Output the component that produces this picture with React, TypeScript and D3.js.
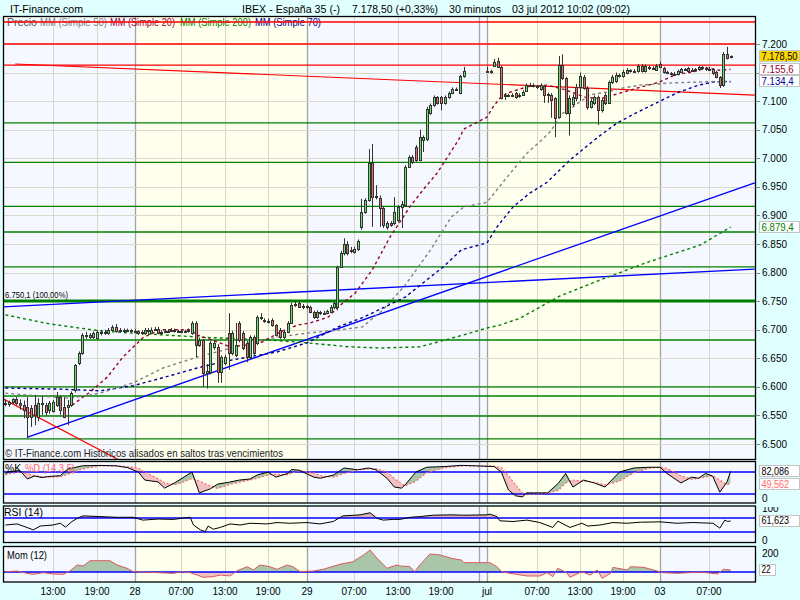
import React from "react";
import * as d3 from "d3";

// ---------- time layout (hours since 27 jun 2012 00:00, 30-minute bars) ----------
const SEG1_START_H = 6.5;
const SEG2_START_H = 120;
const SEG1_LEN = 128;
const AXIS_HOURS = [13, 19, 24, 31, 37, 43, 48, 55, 61, 67, 72, 120, 127, 133, 139, 144, 151, 156];
const AXIS_PX = [53, 97, 135, 181, 225, 268, 307, 354, 398, 441, 479, 487, 537, 580, 623, 660, 709, 745];

const tickHours = [13, 19, 24, 31, 37, 43, 48, 55, 61, 67, 120, 127, 133, 139, 144, 151];
const tickLabels = ["13:00", "19:00", "28", "07:00", "13:00", "19:00", "29", "07:00", "13:00", "19:00", "jul", "07:00", "13:00", "19:00", "03", "07:00"];
const dayBreakHours = [24, 48, 72, 120, 144];
const dayBands = [[0, 24, 0], [24, 48, 1], [48, 72, 0], [72, 120, 0], [120, 144, 1], [144, 170, 0]];

const priceTicks = [6500, 6550, 6600, 6650, 6700, 6750, 6800, 6850, 6900, 6950, 7000, 7050, 7100, 7150, 7200];
const priceTickHidden = [7150];

// ---------- candles: 27-29 jun ----------
const open1 = [6572,6570,6573,6578,6572,6568,6565,6563,6568,6547,6570,6568,6560,6558,6568,6582,6565,6565,6568,6594,6642,6659,6689,6690,6687,6686,6696,6694,6694,6700,6705,6698,6700,6698,6699,6698,6698,6694,6694,6700,6694,6700,6702,6694,6696,6698,6698,6700,6698,6698,6697,6698,6694,6712,6673,6682,6624,6626,6670,6670,6626,6642,6694,6659,6656,6712,6694,6677,6652,6687,6677,6722,6717,6715,6717,6708,6700,6687,6696,6712,6743,6747,6740,6741,6740,6731,6722,6731,6729,6729,6731,6740,6740,6810,6834,6850,6837,6836,6841,6880,6906,6927,6992,6932,6930,6913,6880,6887,6887,6892,6915,6918,6985,7002,7020,6997,7032,7034,7079,7093,7107,7107,7097,7107,7114,7121,7114,7144];
const high1 = [6578,6576,6580,6582,6578,6576,6582,6568,6586,6580,6584,6572,6575,6577,6591,6585,6582,6577,6592,6640,6662,6694,6696,6694,6697,6699,6699,6700,6703,6708,6710,6703,6702,6702,6701,6701,6699,6699,6703,6703,6704,6705,6705,6699,6701,6701,6703,6702,6700,6700,6700,6702,6715,6715,6686,6684,6640,6680,6680,6675,6655,6656,6729,6698,6712,6715,6698,6680,6690,6690,6725,6729,6720,6719,6720,6710,6703,6700,6715,6747,6750,6750,6745,6743,6742,6733,6734,6733,6733,6735,6743,6750,6812,6838,6860,6855,6845,6845,6858,6929,6930,7016,7025,6953,6935,6916,6890,6890,6932,6918,6925,6988,7005,7006,7023,7050,7040,7090,7096,7110,7109,7109,7110,7117,7124,7124,7146,7160];
const low1 = [6566,6565,6570,6568,6560,6545,6510,6530,6533,6540,6551,6550,6553,6555,6565,6551,6545,6533,6565,6590,6638,6656,6684,6684,6684,6683,6690,6691,6691,6698,6695,6695,6695,6696,6695,6695,6691,6691,6691,6694,6692,6698,6692,6691,6694,6695,6696,6695,6695,6694,6694,6695,6691,6652,6670,6600,6597,6622,6665,6607,6607,6638,6630,6655,6652,6678,6664,6643,6648,6655,6673,6717,6712,6711,6705,6688,6684,6684,6694,6710,6740,6738,6736,6736,6729,6719,6719,6726,6726,6727,6729,6736,6734,6808,6830,6830,6834,6833,6838,6875,6903,6924,6880,6928,6880,6878,6875,6880,6883,6888,6878,6915,6983,6990,6994,6995,7011,7030,7076,7090,7094,7084,7094,7104,7112,7118,7112,7141];
const close1 = [6570,6573,6578,6572,6568,6560,6547,6548,6551,6572,6572,6556,6572,6574,6582,6560,6547,6568,6589,6638,6659,6691,6691,6688,6694,6696,6694,6696,6700,6705,6698,6700,6698,6699,6698,6698,6694,6696,6700,6698,6700,6702,6694,6696,6698,6698,6700,6698,6698,6697,6698,6699,6712,6673,6682,6624,6628,6677,6677,6626,6652,6652,6659,6694,6673,6682,6668,6652,6687,6659,6722,6722,6715,6715,6708,6691,6687,6696,6712,6743,6745,6740,6741,6740,6731,6722,6731,6729,6729,6732,6740,6747,6810,6834,6850,6834,6840,6841,6855,6906,6927,6992,6932,6934,6913,6883,6887,6883,6906,6915,6920,6985,7002,6994,6997,7037,7037,7086,7093,7107,7097,7097,7107,7114,7121,7121,7144,7153];

// ---------- candles: 02-03 jul ----------
const open2 = [7153,7153,7162,7170,7160,7110,7111,7110,7114,7109,7111,7118,7128,7128,7127,7121,7126,7111,7111,7105,7072,7163,7140,7080,7095,7124,7125,7142,7123,7090,7097,7107,7084,7111,7097,7133,7135,7146,7144,7150,7155,7153,7153,7162,7153,7160,7158,7155,7165,7158,7151,7150,7148,7148,7151,7156,7158,7153,7155,7156,7160,7158,7156,7157,7151,7142,7128,7183,7177];
const high2 = [7160,7155,7174,7176,7162,7114,7113,7114,7116,7114,7119,7131,7132,7131,7128,7131,7128,7115,7114,7107,7179,7182,7142,7110,7112,7130,7150,7146,7126,7104,7110,7110,7106,7114,7136,7146,7150,7148,7155,7158,7156,7156,7165,7165,7164,7162,7161,7165,7169,7160,7153,7151,7151,7155,7158,7158,7160,7158,7158,7162,7162,7160,7160,7158,7153,7144,7186,7195,7180];
const low2 = [7150,7148,7160,7158,7103,7102,7107,7107,7104,7106,7109,7116,7125,7124,7121,7118,7097,7097,7071,7037,7070,7137,7076,7040,7090,7100,7100,7120,7085,7087,7093,7058,7080,7093,7095,7130,7132,7141,7141,7147,7150,7150,7150,7150,7150,7155,7155,7153,7158,7148,7147,7145,7145,7145,7150,7153,7150,7151,7153,7153,7155,7153,7153,7146,7140,7123,7125,7173,7175];
const close2 = [7153,7151,7169,7160,7105,7111,7110,7111,7107,7111,7116,7128,7128,7127,7125,7128,7111,7112,7102,7070,7163,7140,7080,7105,7107,7105,7144,7123,7090,7100,7107,7084,7102,7097,7133,7142,7146,7144,7151,7155,7153,7153,7162,7153,7162,7158,7158,7162,7160,7151,7150,7148,7148,7153,7156,7155,7153,7155,7156,7160,7158,7156,7157,7149,7142,7128,7183,7176,7178.5];

// ---------- moving averages, read as [bar index, value] ----------
const ma20 = [[18.2,6568],[23.1,6591],[27.7,6617],[31.8,6652],[37.4,6686],[42.6,6700],[51.5,6700],[53.4,6691],[58.8,6679],[62.4,6670],[67.2,6673],[71.6,6679],[76.1,6696],[80.5,6708],[84,6712],[89.3,6722],[92.3,6740],[97.3,6764],[102,6805],[106.8,6862],[112.3,6915],[115.9,6944],[119.9,6974],[122.7,7002],[125.6,7032],[127,7051],[128,7072],[129.7,7090],[131.6,7105],[133.6,7114],[139.2,7125],[144.8,7128],[149.8,7120],[155.4,7107],[159.7,7104],[166.2,7116],[171,7125],[175.7,7133],[180.3,7146],[185.2,7151],[189.4,7158],[193,7154],[196,7155.6]];
const ma50 = [[0,6589],[9.5,6584],[17.7,6580],[25.8,6589],[34.5,6607],[43.5,6633],[53.4,6652],[60.5,6664],[67.2,6677],[75.3,6687],[83,6694],[93,6700],[99.3,6705],[104.8,6734],[111,6778],[118,6839],[123.7,6897],[127,6915],[128,6923],[133.6,6967],[139.2,7009],[142.8,7029],[145.6,7046],[149.2,7079],[152,7090],[156.8,7111],[161.5,7116],[166,7123],[170.5,7128],[179.7,7132],[189.4,7134],[196,7134]];
const ma70 = [[0,6598],[15,6596],[25.8,6593],[34.5,6602],[43.5,6616],[53.4,6633],[60.5,6644],[67.2,6652],[75.3,6661],[83,6677],[92.3,6705],[99.3,6721],[104.8,6738],[111,6757],[121.6,6810],[126.4,6840],[127,6841],[128,6852],[130.8,6880],[135.3,6915],[140,6939],[144.8,6958],[151.2,6997],[158.8,7036],[164.4,7062],[170,7081],[175.7,7099],[181.4,7116],[187.1,7128],[191.6,7134],[196,7134.4]];
const ma200 = [[0,6726],[12.2,6710],[25.8,6698],[34.5,6694],[54.2,6687],[73.5,6682],[83,6677],[95.8,6670],[104.4,6668],[115.1,6670],[127,6691],[128,6703],[131.6,6708],[137.2,6720],[148.4,6759],[159.6,6787],[172.6,6818],[187.4,6848],[196,6879.4]];

// ---------- drawn lines ----------
const redLevels = [7238.5, 7200, 7163];
const greenLevels = [7062, 6993, 6916, 6871, 6810, 6682, 6600, 6584, 6549, 6509];
const fiboLevel = 6750.1;
const blueTrends = [[[6.1, 6512], [202.7, 6957]], [[-0.6, 6740], [202.7, 6806]]];
const redTrends = [[[-0.6, 6579], [40, 6442]], [[2.7, 7165], [202.7, 7110.7]]];

// ---------- indicators ----------
const stochIdx = [0,1,4,6,8,10,12,15,17,21,26,30,33,36,38,42,44,47,49,52,54,57,59,62,65,68,70,73,75,78,79,81,85,87,91,94,98,101,103,106,108,110,111,114,117,122,126,127,130,132,134,136,138,139,141,145,148,150,152,155,158,161,165,169,173,176,178,182,185,187,189,191,193,195,196];
const stochK = [76,81,84,61,69,65,68,70,88,97,98,97,92,80,58,53,36,50,61,80,23,34,47,52,58,61,72,80,66,76,87,85,66,63,72,91,86,91,86,63,39,36,45,80,93,95,98,98,95,80,31,15,12,23,23,23,50,76,39,58,50,39,80,91,93,93,76,50,66,63,76,69,25,53,82.09];
const stochD = [72,75,80,76,70,67,66,67,74,88,97,97,95,90,80,62,50,45,50,62,55,42,35,45,52,58,63,72,74,72,77,83,78,70,66,76,86,88,89,80,62,48,42,55,78,92,96,97,96,92,70,45,22,18,20,22,30,50,58,55,52,45,55,78,90,93,90,70,60,63,66,70,58,45,49.56];

const rsiIdx = [0,3.2,5.9,7.6,9.5,13,15,16.4,18.2,19.6,21.2,25.8,30.3,34.5,37.4,42,46.6,51.5,52.4,54.3,55.6,56.4,57.8,59.7,62.4,65.2,68,72.7,75.3,78.6,83,86.9,90.8,93.7,98.7,101.4,103.3,105,107.7,109.6,112.3,115.1,118.8,123.7,127,128,128.8,130.8,131.6,135.3,139.2,142.8,146.4,147.8,151.2,154.5,156.2,159.6,163.2,167.1,170.7,176,180.9,185.4,191.1,193,194.4,195.2,196];
const rsiVal = [50,53,43,36,47,50,55,44,60,69,76,74,72,72,64,67,66,72,50,36,31,47,38,43,53,50,55,53,57,55,57,53,60,76,79,85,69,64,66,66,72,74,78,79,78,79,81,74,62,60,64,57,43,61,43,55,47,50,57,55,58,59,55,57,55,41,64,60,61.62];

const momIdx = [0,3.2,5.9,7.6,10.3,13,15.8,17.7,19.6,21.2,23.1,25.8,28.4,30.3,32.9,34.5,42,46.6,49.6,51.5,53.4,55,57.8,59.7,62.4,64.4,67.2,68.9,70.7,73.5,75.3,77.9,79.4,81.2,84.9,87.8,92.8,96.7,99.6,101.4,103.3,106,108.7,109.6,112.3,113.7,115.1,117.9,120.8,123.7,126.4,127,128,128.8,130.8,132.1,134.4,139.2,142.8,144.8,146.4,147.8,150.3,151.2,154.5,156.8,158.8,160.2,162.5,163.2,167.1,168,171.6,174.3,176.9,180.9,187.6,192.4,194,196];
const momVal = [3,10,-14,-25,-7,-21,-25,14,74,63,119,119,119,74,39,4,-7,-14,4,-7,-32,-56,-49,-32,-42,14,56,21,74,56,28,74,56,4,10,28,81,108,179,232,144,39,74,63,56,4,74,189,179,144,126,98,98,98,56,4,-14,-42,-42,-7,-49,39,-7,-56,4,-32,21,-67,-14,49,21,56,49,21,-7,-14,0,-21,28,22];

// legend: text, colour, left x, width
const legendItems: [string, string, number, number][] = [
  ["Precio", "#505050", 7, 30],
  ["MM (Simple 50)", "#808080", 40, 67],
  ["MM (Simple 20)", "#990033", 110, 65],
  ["MM (Simple 200)", "#008000", 180, 71],
  ["MM (Simple 70)", "#000099", 255, 66],
];

const FONT = "'Liberation Sans', Arial, sans-serif";
const fmtPrice = (v: number) => `${Math.floor(v / 1000)}.${String(Math.round(v % 1000)).padStart(3, "0")}`;

export default function App() {
  const open = [...open1, ...open2];
  const high = [...high1, ...high2];
  const low = [...low1, ...low2];
  const close = [...close1, ...close2];

  const hoursOf = (i: number) => (i < SEG1_LEN ? SEG1_START_H + 0.5 * i : SEG2_START_H + 0.5 * (i - SEG1_LEN));
  const xT = d3.scaleLinear().domain(AXIS_HOURS).range(AXIS_PX);
  const xi = (i: number) => xT(hoursOf(i));
  const yP = d3.scaleLinear().domain([6500, 7200]).range([444, 44]);
  const yS = d3.scaleLinear().domain([0, 100]).range([501.3, 464.7]);
  const yR = d3.scaleLinear().domain([0, 100]).range([542.5, 507.5]);
  const yM = d3.scaleLinear().domain([0, 200]).range([572, 553]);

  const L = 3.5, R = 755.5;
  const panels: [string, number, number][] = [["main", 16.5, 459.5], ["stoch", 461.5, 503], ["rsi", 506, 542.5], ["mom", 546.5, 582]];

  const priceLine = d3.line<number[]>().x((d) => xi(d[0])).y((d) => yP(d[1]));

  const sPts = stochIdx.map((i, n) => ({ x: xi(i), k: yS(stochK[n]), d: yS(stochD[n]) }));
  const kdArea = d3.area<any>().x((p) => p.x).y0((p) => p.d).y1((p) => p.k)(sPts) || "";
  const clipAboveD = d3.area<any>().x((p) => p.x).y0(455).y1((p) => p.d)(sPts) || "";
  const clipBelowD = d3.area<any>().x((p) => p.x).y0(510).y1((p) => p.d)(sPts) || "";
  const kLine = d3.line<any>().x((p) => p.x).y((p) => p.k)(sPts) || "";
  const dLine = d3.line<any>().x((p) => p.x).y((p) => p.d)(sPts) || "";

  const rPts = rsiIdx.map((i, n) => [xi(i), yR(rsiVal[n])]);
  const rsiLine = d3.line()(rPts as any) || "";
  const rsiArea = d3.area().x((p: any) => p[0]).y0(yR(70)).y1((p: any) => p[1])(rPts as any) || "";

  const mPts = momIdx.map((i, n) => [xi(i), yM(momVal[n])]);
  const momLine = d3.line()(mPts as any) || "";
  const momArea = d3.area().x((p: any) => p[0]).y0(yM(0)).y1((p: any) => p[1])(mPts as any) || "";

  const fillGreen = "#A9C6AA";
  const fillPink = "#F2C2C2";

  const bgVLines = (top: number, bottom: number, key: string) => (
    <g key={key}>
      {tickHours.filter((h) => !dayBreakHours.includes(h)).map((h, n) => (
        <line key={n} x1={Math.round(xT(h)) + 0.5} x2={Math.round(xT(h)) + 0.5} y1={top} y2={bottom} stroke="#DAD6C6" strokeWidth={1} />
      ))}
      {dayBreakHours.map((h, n) => (
        <line key={"d" + n} x1={Math.round(xT(h)) + 0.5} x2={Math.round(xT(h)) + 0.5} y1={top} y2={bottom} stroke="#A4A4A4" strokeWidth={1.3} />
      ))}
    </g>
  );

  const bands = (top: number, bottom: number, key: string) => (
    <g key={key}>
      {dayBands.map((b, n) => {
        const x1 = Math.max(L, xT(b[0]));
        const x2 = Math.min(R, xT(b[1]));
        return <rect key={n} x={x1} y={top} width={Math.max(0, x2 - x1)} height={bottom - top} fill={b[2] ? "#FFFFEE" : "#F5F9FF"} />;
      })}
    </g>
  );

  const boxLabel = (txt: string, cy: number, color: string, bg = "#FFFFFF", w = 40) => (
    <g key={txt}>
      <rect x={759.5} y={Math.round(cy - 6) + 0.5} width={w} height={11} fill={bg} stroke="#C4C4C4" />
      <text x={761.5} y={cy + 3.5} fontSize={10} fill={color} textLength={Math.min(w - 4, txt.length * 4.6)} lengthAdjust="spacingAndGlyphs">{txt}</text>
    </g>
  );

  return (
    <svg width={800} height={600} style={{ position: "absolute", left: 0, top: 0 }} fontFamily={FONT}>
      <defs>
        {panels.map(([id, t, b]) => (
          <clipPath id={"clip-" + id} key={id}>
            <rect x={L} y={t} width={R - L} height={b - t} />
          </clipPath>
        ))}
        <clipPath id="clip-aboveD"><path d={clipAboveD} /></clipPath>
        <clipPath id="clip-belowD"><path d={clipBelowD} /></clipPath>
        <clipPath id="clip-rsiUp"><rect x={L} y={500} width={R - L} height={yR(70) - 500} /></clipPath>
        <clipPath id="clip-momUp"><rect x={L} y={540} width={R - L} height={yM(0) - 540} /></clipPath>
        <clipPath id="clip-momDn"><rect x={L} y={yM(0)} width={R - L} height={590 - yM(0)} /></clipPath>
      </defs>
      <rect x={0} y={0} width={800} height={600} fill="#E0FFFF" />

      {/* header */}
      <text x={10} y={12.5} fontSize={11.5} fill="#000" textLength={73} lengthAdjust="spacingAndGlyphs">IT-Finance.com</text>
      <text x={242} y={12.5} fontSize={11.5} fill="#000" textLength={98} lengthAdjust="spacingAndGlyphs">IBEX - España 35 (-)</text>
      <text x={352} y={12.5} fontSize={11.5} fill="#000" textLength={86} lengthAdjust="spacingAndGlyphs">7.178,50 (+0,33%)</text>
      <text x={449} y={12.5} fontSize={11.5} fill="#000" textLength={52} lengthAdjust="spacingAndGlyphs">30 minutos</text>
      <text x={512} y={12.5} fontSize={11.5} fill="#000" textLength={118} lengthAdjust="spacingAndGlyphs">03 jul 2012 10:02 (09:02)</text>

      {panels.map(([id, t, b]) => bands(t, b, "bg" + id))}
      {panels.map(([id, t, b]) => bgVLines(t, b, "vl" + id))}

      {/* ---------- main price panel ---------- */}
      <g clipPath="url(#clip-main)">
        {priceTicks.map((v) => (
          <line key={v} x1={L} x2={R} y1={Math.round(yP(v)) + 0.5} y2={Math.round(yP(v)) + 0.5} stroke="#D9D9CF" />
        ))}
        {legendItems.map(([t, c, x, w]) => (
          <text key={t} x={x} y={25.5} fontSize={10.5} fill={c} textLength={w} lengthAdjust="spacingAndGlyphs">{t}</text>
        ))}
        {redLevels.map((v) => (
          <line key={v} x1={L} x2={R} y1={yP(v)} y2={yP(v)} stroke="#FF0000" strokeWidth={1.3} />
        ))}
        {greenLevels.map((v) => (
          <line key={v} x1={L} x2={R} y1={yP(v)} y2={yP(v)} stroke="#008000" strokeWidth={1.3} />
        ))}
        <line x1={L} x2={R} y1={yP(fiboLevel)} y2={yP(fiboLevel)} stroke="#008000" strokeWidth={3} />
        <text x={5} y={yP(fiboLevel) - 3} fontSize={8.5} fill="#000" textLength={63} lengthAdjust="spacingAndGlyphs">6.750,1 (100,00%)</text>
        {blueTrends.map((p, n) => (
          <path key={"b" + n} d={priceLine(p) || ""} stroke="#0000FF" strokeWidth={1.3} fill="none" />
        ))}
        {redTrends.map((p, n) => (
          <path key={"r" + n} d={priceLine(p) || ""} stroke="#FF0000" strokeWidth={1.2} fill="none" />
        ))}
        <path d={priceLine(ma200) || ""} stroke="#008000" strokeWidth={1.4} fill="none" strokeDasharray="3,3" />
        <path d={priceLine(ma70) || ""} stroke="#000099" strokeWidth={1.4} fill="none" strokeDasharray="3,3" />
        <path d={priceLine(ma50) || ""} stroke="#808080" strokeWidth={1.4} fill="none" strokeDasharray="3,3" />
        <path d={priceLine(ma20) || ""} stroke="#990033" strokeWidth={1.4} fill="none" strokeDasharray="3,3" />
        {open.map((o, i) => {
          const cx = Math.round(xi(i));
          const c = close[i];
          const y1 = Math.round(yP(Math.max(o, c)));
          const y2 = Math.round(yP(Math.min(o, c)));
          return (
            <g key={i}>
              <line x1={cx + 0.5} x2={cx + 0.5} y1={yP(high[i])} y2={yP(low[i])} stroke="#333" strokeWidth={1} />
              <rect x={cx - 0.5} y={y1 + 0.5} width={2} height={Math.max(1, y2 - y1)} fill={c >= o ? "#66E066" : "#E07070"} stroke="#333" strokeWidth={1} />
            </g>
          );
        })}
        <text x={5} y={456.5} fontSize={10.5} fill="#222" textLength={278} lengthAdjust="spacingAndGlyphs">© IT-Finance.com  Históricos alisados en saltos tras vencimientos</text>
      </g>

      {/* ---------- stochastic ---------- */}
      <g clipPath="url(#clip-stoch)">
        <path d={kdArea} fill={fillGreen} clipPath="url(#clip-aboveD)" />
        <path d={kdArea} fill={fillPink} clipPath="url(#clip-belowD)" />
        <line x1={L} x2={R} y1={yS(80)} y2={yS(80)} stroke="#0000FF" strokeWidth={1.3} />
        <line x1={L} x2={R} y1={yS(20)} y2={yS(20)} stroke="#0000FF" strokeWidth={1.3} />
        <path d={dLine} fill="none" stroke="#FF6666" strokeWidth={1.2} strokeDasharray="2,2" />
        <path d={kLine} fill="none" stroke="#000" strokeWidth={1} />
        <text x={5} y={472} fontSize={10.5} fill="#000" textLength={16} lengthAdjust="spacingAndGlyphs">%K</text>
        <text x={25} y={472} fontSize={10.5} fill="#FF6666" textLength={50} lengthAdjust="spacingAndGlyphs">%D (14 3 5)</text>
      </g>

      {/* ---------- RSI ---------- */}
      <g clipPath="url(#clip-rsi)">
        <path d={rsiArea} fill="#D9B4AE" clipPath="url(#clip-rsiUp)" />
        <line x1={L} x2={R} y1={yR(70)} y2={yR(70)} stroke="#0000FF" strokeWidth={1.3} />
        <line x1={L} x2={R} y1={yR(30)} y2={yR(30)} stroke="#0000FF" strokeWidth={1.3} />
        <path d={rsiLine} fill="none" stroke="#000" strokeWidth={1} />
        <text x={4} y={516} fontSize={10.5} fill="#000" textLength={39} lengthAdjust="spacingAndGlyphs">RSI (14)</text>
      </g>

      {/* ---------- Momentum ---------- */}
      <g clipPath="url(#clip-mom)">
        <path d={momArea} fill={fillGreen} clipPath="url(#clip-momUp)" />
        <path d={momArea} fill={fillPink} clipPath="url(#clip-momDn)" />
        <line x1={L} x2={R} y1={yM(0)} y2={yM(0)} stroke="#0000FF" strokeWidth={1.3} />
        <path d={momLine} fill="none" stroke="#D85A5A" strokeWidth={1} />
        <text x={7} y={559} fontSize={10.5} fill="#000" textLength={40} lengthAdjust="spacingAndGlyphs">Mom (12)</text>
      </g>

      {panels.map(([id, t, b]) => (
        <rect key={"f" + id} x={L} y={t} width={R - L} height={b - t} fill="none" stroke="#000" strokeWidth={1.3} />
      ))}

      {/* price axis */}
      {priceTicks.map((v) => (
        <g key={v}>
          <line x1={R} x2={760} y1={Math.round(yP(v)) + 0.5} y2={Math.round(yP(v)) + 0.5} stroke="#888" />
          {!priceTickHidden.includes(v) && (
            <text x={762} y={yP(v) + 3.5} fontSize={10} fill="#000">{fmtPrice(v)}</text>
          )}
        </g>
      ))}
      {boxLabel("7.178,50", yP(7178.5), "#000", "#FFD800", 40)}
      {boxLabel("7.155,6", yP(7155.6), "#990033")}
      {boxLabel("7.134,4", yP(7134.4), "#000099")}
      {boxLabel("6.879,4", yP(6879.4), "#008000")}

      {boxLabel("82,086", yS(82.086), "#000")}
      {boxLabel("49,562", yS(49.562) + 1, "#FF6666")}
      <text x={762} y={yS(0) + 1} fontSize={10} fill="#000">0</text>
      <text x={762} y={512} fontSize={10} fill="#000">100</text>
      <rect x={757} y={503.5} width={43} height={3.5} fill="#E0FFFF" />
      {boxLabel("61,623", yR(61.623), "#000")}
      <text x={762} y={yR(0) + 1} fontSize={10} fill="#000">0</text>
      <text x={762} y={yM(200) + 3.5} fontSize={10} fill="#000">200</text>
      {boxLabel("22", yM(22), "#000", "#FFFFFF", 16)}

      {/* time axis */}
      {tickHours.map((h, n) => (
        <text key={n} x={xT(h)} y={595} fontSize={10} textAnchor="middle" fill="#000">{tickLabels[n]}</text>
      ))}
    </svg>
  );
}
